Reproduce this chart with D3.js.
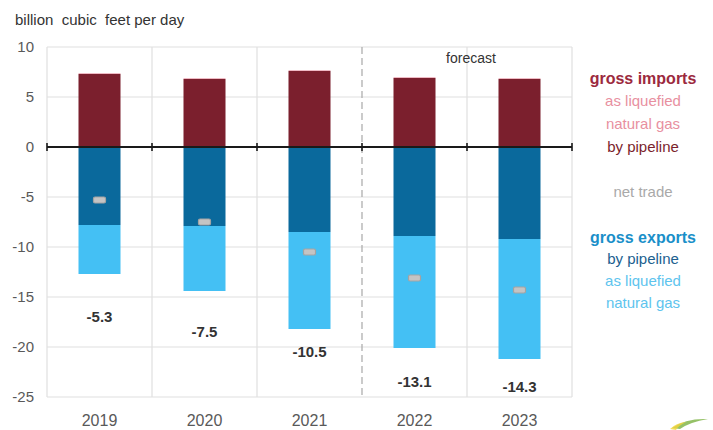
<!DOCTYPE html>
<html>
<head>
<meta charset="utf-8">
<script src="https://cdn.jsdelivr.net/npm/d3@7"></script>
<style>
  body { margin: 0; background: #fff; }
  svg { display: block; font-family: "Liberation Sans", Arial, sans-serif; }
</style>
</head>
<body>
<svg id="chart" width="713" height="430"></svg>
<script>
const years = ["2019", "2020", "2021", "2022", "2023"];
const importsPipeline = [7.3, 6.8, 7.6, 6.9, 6.8];
const importsLNG = [0.1, 0.1, 0.1, 0.1, 0.1];
const exportsPipeline = [7.8, 7.9, 8.5, 8.9, 9.2];
const exportsLNG = [4.9, 6.5, 9.7, 11.2, 12.0];
const netTrade = [-5.3, -7.5, -10.5, -13.1, -14.3];
const netLabelY = [-17.0, -18.5, -20.5, -23.5, -24.0];
const yTicks = [10, 5, 0, -5, -10, -15, -20, -25];

(function () {
const svg = d3.select("#chart");
const pLeft = 47, pRight = 572, pTop = 47, pBottom = 397;

const x = d3.scaleBand().domain(years).range([pLeft, pRight]).paddingInner(0.6).paddingOuter(0.3);
const y = d3.scaleLinear().domain([-25, 10]).range([pBottom, pTop]);
const step = x.step();

const colors = {
  impPipe: "#7b1f2d",
  impLNG: "#e48c9c",
  expPipe: "#0a699c",
  expLNG: "#44c0f4"
};

// horizontal gridlines
svg.append("g").selectAll("line").data(yTicks).join("line")
  .attr("x1", pLeft).attr("x2", pRight)
  .attr("y1", d => y(d)).attr("y2", d => y(d))
  .attr("stroke", "#e0e0e0").attr("stroke-width", 1.2);

// vertical category separators
const bounds = d3.range(years.length + 1).map(i => pLeft + i * step);
svg.append("g").selectAll("line").data(bounds).join("line")
  .attr("x1", d => d).attr("x2", d => d)
  .attr("y1", pTop).attr("y2", pBottom)
  .attr("stroke", (d, i) => i === 3 ? "#a8a8a8" : "#e0e0e0")
  .attr("stroke-width", 1.2)
  .attr("stroke-dasharray", (d, i) => i === 3 ? "7,4" : null);

// y axis labels
svg.append("g").selectAll("text").data(yTicks).join("text")
  .attr("x", 34).attr("y", d => y(d)).attr("dy", "0.36em")
  .attr("text-anchor", "end")
  .attr("font-size", 15).attr("fill", "#595959")
  .text(d => d);

// bars
const bw = x.bandwidth();
const g = svg.append("g");
years.forEach((yr, i) => {
  const x0 = x(yr);
  const ip = importsPipeline[i], il = importsLNG[i];
  const ep = exportsPipeline[i], el = exportsLNG[i];
  g.append("rect").attr("x", x0).attr("width", bw)
    .attr("y", y(ip)).attr("height", y(0) - y(ip)).attr("fill", colors.impPipe);
  g.append("rect").attr("x", x0).attr("width", bw)
    .attr("y", y(ip + il)).attr("height", y(ip) - y(ip + il)).attr("fill", colors.impLNG).attr("opacity", 0.6);
  g.append("rect").attr("x", x0).attr("width", bw)
    .attr("y", y(0)).attr("height", y(-ep) - y(0)).attr("fill", colors.expPipe);
  g.append("rect").attr("x", x0).attr("width", bw)
    .attr("y", y(-ep)).attr("height", y(-ep - el) - y(-ep)).attr("fill", colors.expLNG);
});

// zero line with ticks
svg.append("line").attr("x1", pLeft).attr("x2", pRight)
  .attr("y1", y(0)).attr("y2", y(0)).attr("stroke", "#1a1a1a").attr("stroke-width", 2);
svg.append("g").selectAll("line").data(bounds).join("line")
  .attr("x1", d => d).attr("x2", d => d)
  .attr("y1", y(0) - 4).attr("y2", y(0) + 4)
  .attr("stroke", "#1a1a1a").attr("stroke-width", 1.6);

// net trade markers
svg.append("g").selectAll("rect").data(netTrade).join("rect")
  .attr("x", (d, i) => x(years[i]) + bw / 2 - 6)
  .attr("y", d => y(d) - 3)
  .attr("width", 12).attr("height", 6).attr("rx", 1.5)
  .attr("fill", "#c4c4c4").attr("stroke", "#a3a3a3").attr("stroke-width", 1.2);

// net trade labels
svg.append("g").selectAll("text").data(netTrade).join("text")
  .attr("x", (d, i) => x(years[i]) + bw / 2)
  .attr("y", (d, i) => y(netLabelY[i])).attr("dy", "0.36em")
  .attr("text-anchor", "middle")
  .attr("font-size", 15).attr("font-weight", "bold").attr("fill", "#333")
  .text(d => d.toFixed(1));

// x axis labels
svg.append("g").selectAll("text").data(years).join("text")
  .attr("x", d => x(d) + bw / 2).attr("y", 426)
  .attr("text-anchor", "middle")
  .attr("font-size", 16).attr("fill", "#595959")
  .text(d => d);

// title
svg.append("text").attr("x", 15).attr("y", 25)
  .attr("font-size", 15).attr("fill", "#333")
  .attr("xml:space", "preserve").style("white-space", "pre")
  .text("billion  cubic  feet per day");

// forecast
svg.append("text").attr("x", 471).attr("y", 63)
  .attr("text-anchor", "middle")
  .attr("font-size", 14).attr("fill", "#333")
  .text("forecast");

// legend
const legend = [
  { t: "gross imports", y: 78, c: "#9c2a3e", b: true, s: 16 },
  { t: "as liquefied", y: 101, c: "#e8909f", b: false, s: 15 },
  { t: "natural gas", y: 124, c: "#e8909f", b: false, s: 15 },
  { t: "by pipeline", y: 147, c: "#7b1f2d", b: false, s: 15 },
  { t: "net trade", y: 192, c: "#a9a9a9", b: false, s: 15 },
  { t: "gross exports", y: 237, c: "#1a8fc9", b: true, s: 16 },
  { t: "by pipeline", y: 259, c: "#215f8f", b: false, s: 15 },
  { t: "as liquefied", y: 281, c: "#5ec4ee", b: false, s: 15 },
  { t: "natural gas", y: 303, c: "#5ec4ee", b: false, s: 15 }
];
svg.append("g").selectAll("text").data(legend).join("text")
  .attr("x", 643).attr("y", d => d.y).attr("dy", "0.36em")
  .attr("text-anchor", "middle")
  .attr("font-size", d => d.s)
  .attr("font-weight", d => d.b ? "bold" : "normal")
  .attr("fill", d => d.c)
  .text(d => d.t);

// small logo swoosh
svg.append("path").attr("d", "M672,428 Q686,418 708,419 Q690,422 680,429 Z")
  .attr("fill", "#7bb241").attr("opacity", 0.8);
svg.append("path").attr("d", "M670,429 Q676,423 686,422 Q678,426 676,430 Z")
  .attr("fill", "#f2d43a").attr("opacity", 0.8);
})();
</script>
</body>
</html>
